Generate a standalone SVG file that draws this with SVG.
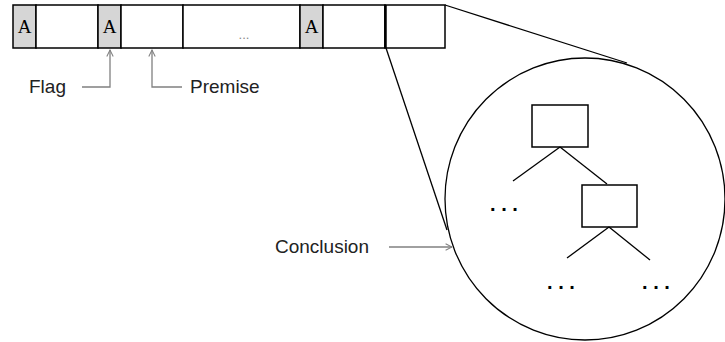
<svg xmlns="http://www.w3.org/2000/svg" width="725" height="342" viewBox="0 0 725 342">
<defs>
<style>
.cell{fill:#fff;stroke:#000;stroke-width:1.5}
.flag{fill:#d6d6d6;stroke:#000;stroke-width:1.5}
.a{font-family:"Liberation Serif",serif;font-size:19px;fill:#000}
.lbl{font-family:"Liberation Sans",Arial,sans-serif;font-size:19px;fill:#222}
.ptr{fill:none;stroke:#808080;stroke-width:1.3}
.ln{fill:none;stroke:#000;stroke-width:1.3}
.dots{font-family:"Liberation Sans",Arial,sans-serif;font-size:20px;font-weight:bold;fill:#000}
</style>
<marker id="arr" viewBox="0 0 10 10" refX="9" refY="5" markerWidth="8" markerHeight="8" orient="auto" markerUnits="userSpaceOnUse">
<path d="M1,1 L9,5 L1,9" fill="none" stroke="#808080" stroke-width="1.3"/>
</marker>
</defs>
<rect width="725" height="342" fill="#fff"/>
<g id="bar">
<rect class="flag" x="13" y="5" width="23" height="43"/>
<rect class="cell" x="36" y="5" width="62" height="43"/>
<rect class="flag" x="98" y="5" width="23" height="43"/>
<rect class="cell" x="121" y="5" width="62" height="43"/>
<rect class="cell" x="183" y="5" width="117" height="43"/>
<rect class="flag" x="300" y="5" width="23" height="43"/>
<rect class="cell" x="323" y="5" width="62" height="43"/>
<rect class="cell" x="385" y="5" width="60" height="43"/>
<line x1="385.5" y1="5" x2="385.5" y2="48" stroke="#000" stroke-width="2.5"/>
<text class="a" x="24.5" y="33" text-anchor="middle">A</text>
<text class="a" x="109.5" y="33" text-anchor="middle">A</text>
<text class="a" x="311.5" y="33" text-anchor="middle">A</text>
<text x="244" y="39" font-family="Liberation Sans,Arial,sans-serif" font-size="13" fill="#888" text-anchor="middle">...</text>
</g>
<g id="circle">
<ellipse cx="585" cy="199" rx="140" ry="141" fill="none" stroke="#000" stroke-width="1.3"/>
<rect class="cell" x="532" y="105" width="56" height="42" stroke-width="1.5"/>
<rect class="cell" x="582" y="185" width="55" height="42" stroke-width="1.5"/>
<text class="dots" x="504" y="211" text-anchor="middle">. . .</text>
<text class="dots" x="561" y="289" text-anchor="middle">. . .</text>
<text class="dots" x="656" y="289" text-anchor="middle">. . .</text>
</g>
<g id="labels">
<text class="lbl" x="29" y="93">Flag</text>
<text class="lbl" x="190" y="93">Premise</text>
<text class="lbl" x="275" y="253">Conclusion</text>
</g>
<g id="connectors">
<line class="ln" x1="445" y1="5" x2="627" y2="63"/>
<line class="ln" x1="386" y1="48" x2="447" y2="230"/>
<line class="ln" x1="560" y1="147" x2="513" y2="181"/>
<line class="ln" x1="560" y1="147" x2="607" y2="184"/>
<line class="ln" x1="609" y1="227" x2="567" y2="258"/>
<line class="ln" x1="609" y1="227" x2="650" y2="260"/>
<path class="ptr" d="M82,87 H110 V50" marker-end="url(#arr)"/>
<path class="ptr" d="M182,87 H152 V50" marker-end="url(#arr)"/>
<path class="ptr" d="M389,247 H452" marker-end="url(#arr)"/>
</g>
</svg>
